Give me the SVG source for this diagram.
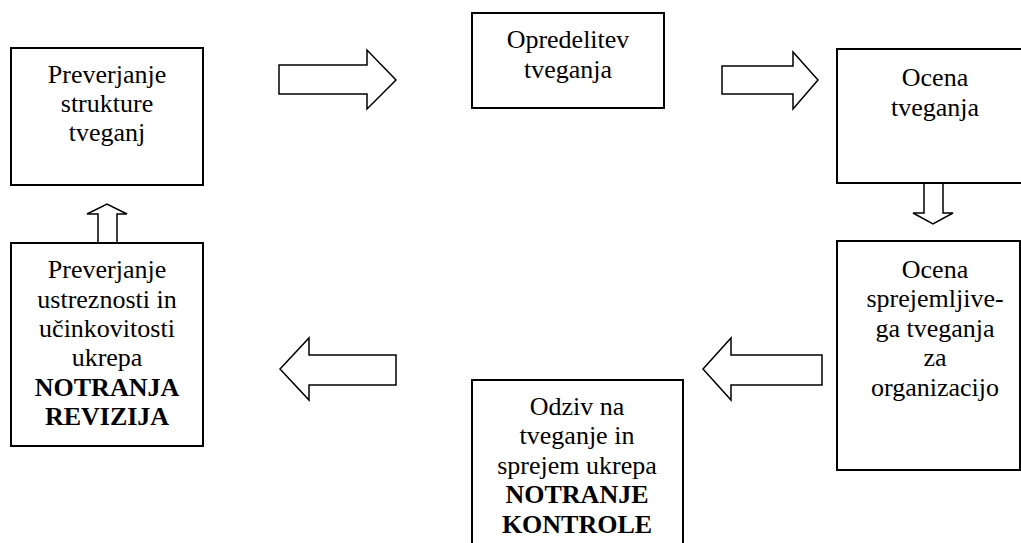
<svg xmlns="http://www.w3.org/2000/svg" width="1021" height="543" viewBox="0 0 1021 543">
<style>
.box{fill:#fff;stroke:#000;stroke-width:2}
.arr{fill:#fff;stroke:#000;stroke-width:1.5;stroke-linejoin:miter}
text{font-family:"Liberation Serif","Times New Roman",Times,Tinos,"Nimbus Roman","Nimbus Roman No9 L","Noto Serif","DejaVu Serif",FreeSerif,serif;font-size:26px;fill:#000;text-anchor:middle}
.b{font-weight:bold}
</style>
<rect width="1021" height="543" fill="#fff"/>
<g id="connectors">
<polygon class="arr" points="279,65 367,65 367,50 396,80 367,109 367,94 279,94"/>
<polygon class="arr" points="722,66 793,66 793,52 818,80 793,109 793,94 722,94"/>
<polygon class="arr" points="924,183 943,183 943,213 953,213 933,224 913,213 924,213"/>
<polygon class="arr" points="822,355 731,355 731,338 703,369 731,400 731,385 822,385"/>
<polygon class="arr" points="396,355 309,355 309,338 280,369 309,400 309,385 396,385"/>
<polygon class="arr" points="98,243 117,243 117,214 127,214 107,204 87,214 98,214"/>
</g>
<g id="n1">
<rect class="box" x="11" y="48" width="192" height="137"/>
<text x="107" y="83">Preverjanje</text>
<text x="107" y="112">strukture</text>
<text x="107" y="141">tveganj</text>
</g>
<g id="n2">
<rect class="box" x="472" y="13" width="192" height="95"/>
<text x="568" y="48">Opredelitev</text>
<text x="568" y="78">tveganja</text>
</g>
<g id="n3">
<rect class="box" x="837" y="49" width="200" height="134"/>
<text x="935" y="86">Ocena</text>
<text x="935" y="116">tveganja</text>
</g>
<g id="n4">
<rect class="box" x="837" y="241" width="183" height="229"/>
<text x="935" y="278">Ocena</text>
<text x="935" y="307">sprejemljive-</text>
<text x="935" y="337">ga tveganja</text>
<text x="935" y="366">za</text>
<text x="935" y="396">organizacijo</text>
</g>
<g id="n5">
<rect class="box" x="472" y="380" width="211" height="180"/>
<text x="577" y="415">Odziv na</text>
<text x="577" y="444">tveganje in</text>
<text x="577" y="474">sprejem ukrepa</text>
<text class="b" x="577" y="503">NOTRANJE</text>
<text class="b" x="577" y="533">KONTROLE</text>
</g>
<g id="n6">
<rect class="box" x="11" y="243" width="192" height="203"/>
<text x="107" y="278">Preverjanje</text>
<text x="107" y="308">ustreznosti in</text>
<text x="107" y="337">učinkovitosti</text>
<text x="107" y="366">ukrepa</text>
<text class="b" x="107" y="396">NOTRANJA</text>
<text class="b" x="107" y="425">REVIZIJA</text>
</g>
</svg>
